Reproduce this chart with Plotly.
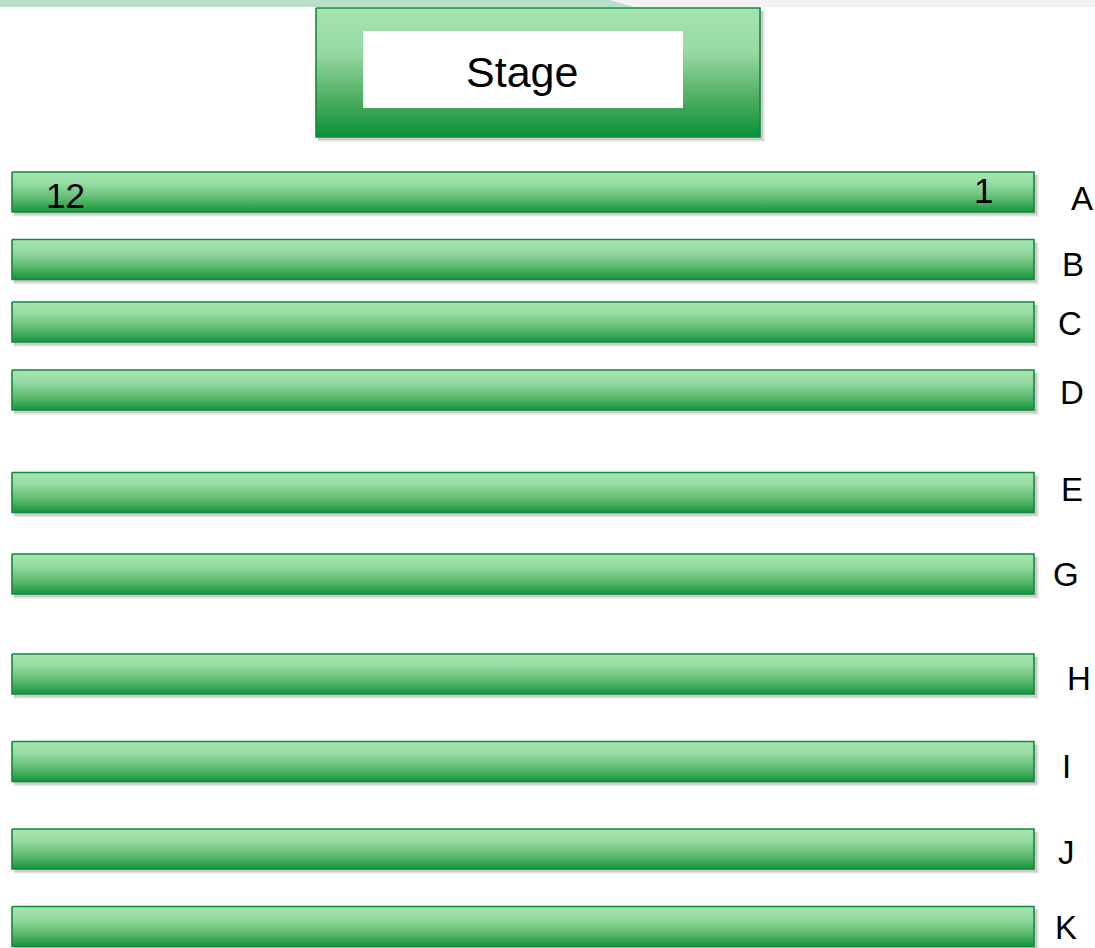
import plotly.graph_objects as go

# ---- data ----
rows = ["A", "B", "C", "D", "E", "G", "H", "I", "J", "K"]
row_center = [192, 259.5, 322, 390, 492.5, 574, 674, 761.5, 849, 926.5]
label_x = [1082, 1073, 1070, 1072, 1072, 1066, 1079, 1066, 1066, 1066]
label_y = [198, 264, 323, 392, 489, 574, 678, 766, 852, 927]
seat_first = "12"
seat_last = "1"
stage_label = "Stage"

# ---- style ----
W, H = 1095, 948
BAR_X0, BAR_X1 = 12, 1034
BAR_H = 40
FONT = "Liberation Sans"
EDGE = "#118a3b"
BAR_SCALE = [[0, "#a7e5b2"], [0.3, "#96dba2"], [0.7, "#58b76b"], [1, "#13943d"]]
STAGE_SCALE = [[0, "#a5e4af"], [0.35, "#96d9a2"], [0.7, "#4fae62"], [1, "#08913a"]]

fig = go.Figure()


def rect(x0, x1, y0, y1):
    return [x0, x1, x1, x0, x0], [y0, y0, y1, y1, y0]


def shadow(x0, x1, y0, y1):
    for d, a in [(5, 0.05), (4, 0.07), (3, 0.09)]:
        xs, ys = rect(x0 + 2, x1 + d, y0 + 3, y1 + d)
        fig.add_trace(go.Scatter(x=xs, y=ys, mode="lines", fill="toself",
                                 fillcolor=f"rgba(0,0,0,{a})", line=dict(width=0),
                                 hoverinfo="skip", showlegend=False))


def grad_box(x0, x1, y0, y1, scale, name):
    xs, ys = rect(x0, x1, y0, y1)
    fig.add_trace(go.Scatter(
        x=xs, y=ys, mode="lines", fill="toself", name=name,
        line=dict(color=EDGE, width=1.6),
        fillgradient=dict(type="vertical", colorscale=scale, start=y0, stop=y1),
        hoverinfo="name", showlegend=False))


# top decorative strip
fig.add_trace(go.Scatter(x=[0, 610, 635, 0, 0], y=[0, 0, 7, 7, 0], mode="lines", fill="toself",
                         fillcolor="#b9dfcb", line=dict(width=0), hoverinfo="skip", showlegend=False))
fig.add_trace(go.Scatter(x=[610, 1095, 1095, 635, 610], y=[0, 0, 7, 7, 0], mode="lines", fill="toself",
                         fillcolor="#f2f2f2", line=dict(width=0), hoverinfo="skip", showlegend=False))

# stage
shadow(316, 760, 8, 137)
grad_box(316, 760, 8, 137, STAGE_SCALE, stage_label)
xs, ys = rect(363, 683, 31, 108)
fig.add_trace(go.Scatter(x=xs, y=ys, mode="lines", fill="toself", fillcolor="white",
                         line=dict(width=0), hoverinfo="skip", showlegend=False))
fig.add_annotation(x=522, y=72, text=stage_label, showarrow=False,
                   font=dict(family=FONT, size=43, color="black"), xanchor="center", yanchor="middle")

# rows
for r, yc in zip(rows, row_center):
    y0, y1 = yc - BAR_H / 2, yc + BAR_H / 2
    shadow(BAR_X0, BAR_X1, y0, y1)
    grad_box(BAR_X0, BAR_X1, y0, y1, BAR_SCALE, "Row " + r)

for r, lx, ly in zip(rows, label_x, label_y):
    fig.add_annotation(x=lx, y=ly, text=r, showarrow=False,
                       font=dict(family=FONT, size=33, color="black"), xanchor="center", yanchor="middle")

fig.add_annotation(x=65, y=195, text=seat_first, showarrow=False,
                   font=dict(family=FONT, size=35, color="black"), xanchor="center", yanchor="middle")
fig.add_annotation(x=983, y=190, text=seat_last, showarrow=False,
                   font=dict(family=FONT, size=35, color="black"), xanchor="center", yanchor="middle")

fig.update_layout(
    width=W, height=H, margin=dict(l=0, r=0, t=0, b=0),
    paper_bgcolor="white", plot_bgcolor="white", showlegend=False,
    xaxis=dict(range=[0, W], visible=False, fixedrange=True),
    yaxis=dict(range=[H, 0], visible=False, fixedrange=True),
)
fig.write_html("out.html", config={"displayModeBar": False},
               post_script="document.body.style.margin='0';document.body.style.overflow='hidden';")
